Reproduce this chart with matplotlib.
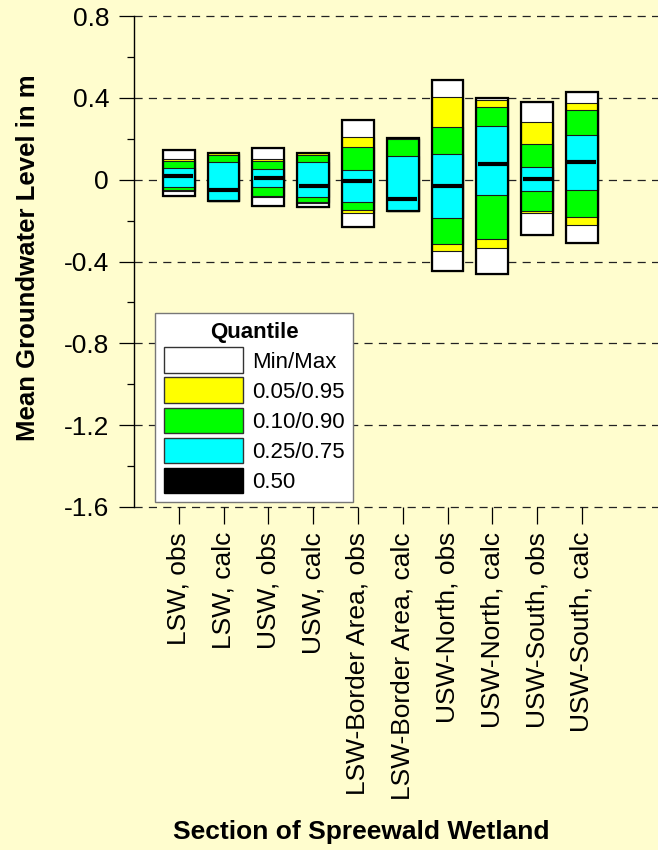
import matplotlib
matplotlib.use('Agg')
import matplotlib.pyplot as plt
from matplotlib.patches import Patch
from matplotlib.ticker import MultipleLocator

plt.rcParams['font.family'] = ['Liberation Sans', 'DejaVu Sans']

# quantiles of mean groundwater level (m) per section
labels = ['LSW, obs', 'LSW, calc', 'USW, obs', 'USW, calc',
          'LSW-Border Area, obs', 'LSW-Border Area, calc',
          'USW-North, obs', 'USW-North, calc', 'USW-South, obs', 'USW-South, calc']
q_min = [-0.080, -0.106, -0.128, -0.135, -0.233, -0.153, -0.445, -0.461, -0.270, -0.309]
q05 = [-0.057, -0.106, -0.085, -0.113, -0.163, -0.153, -0.350, -0.334, -0.163, -0.223]
q10 = [-0.050, -0.106, -0.078, -0.108, -0.150, -0.153, -0.316, -0.290, -0.151, -0.184]
q25 = [-0.034, -0.106, -0.034, -0.083, -0.108, -0.153, -0.189, -0.075, -0.055, -0.052]
q50 = [0.017, -0.049, 0.010, -0.029, -0.008, -0.093, -0.029, 0.077, 0.002, 0.085]
q75 = [0.056, 0.085, 0.051, 0.087, 0.046, 0.114, 0.127, 0.264, 0.064, 0.217]
q90 = [0.090, 0.120, 0.091, 0.119, 0.161, 0.197, 0.256, 0.357, 0.173, 0.342]
q95 = [0.100, 0.128, 0.100, 0.128, 0.210, 0.205, 0.404, 0.388, 0.282, 0.376]
q_max = [0.147, 0.130, 0.153, 0.130, 0.292, 0.205, 0.489, 0.399, 0.378, 0.430]

bg = '#FFFDCE'
fig = plt.figure(figsize=(6.58, 8.5), dpi=100, facecolor=bg)
ax = fig.add_axes([134/658, 1-507/850, 1-134/658, (507-16)/850])
ax.set_facecolor(bg)

x = list(range(1, len(labels)+1))
w = 0.71

# nested quantile boxes, outermost first
layers = [(q_min, q_max, 'white'), (q05, q95, '#FFFF00'),
          (q10, q90, '#00FF00'), (q25, q75, '#00FFFF')]
for lo, hi, col in layers:
    ax.bar(x, [h - l for l, h in zip(lo, hi)], bottom=lo, width=w,
           color=col, edgecolor='#1a1a1a', linewidth=0.8, zorder=3)
# outer frame
ax.bar(x, [h - l for l, h in zip(q_min, q_max)], bottom=q_min, width=w,
       fill=False, edgecolor='black', linewidth=1.6, zorder=4)
# median
ax.hlines(q50, [i - w/2 + 0.03 for i in x], [i + w/2 - 0.03 for i in x],
          color='black', linewidth=3.0, zorder=5)

ax.set_ylim(-1.6, 0.8)
ax.set_xlim(0, 11.7)
yt = [-1.6, -1.2, -0.8, -0.4, 0, 0.4, 0.8]
ax.set_yticks(yt)
ax.set_yticklabels(['-1.6', '-1.2', '-0.8', '-0.4', '0', '0.4', '0.8'])
ax.yaxis.set_minor_locator(MultipleLocator(0.2))
ax.tick_params(axis='y', which='major', length=11, width=0.9, pad=7, labelsize=19)
ax.tick_params(axis='y', which='minor', length=5, width=0.9)
ax.set_xticks(x)
ax.set_xticklabels(labels, rotation=90, fontsize=19)
ax.tick_params(axis='x', length=12, width=0.9, pad=6)

for s in ['top', 'right', 'bottom']:
    ax.spines[s].set_visible(False)
ax.spines['left'].set_linewidth(1.0)

for v in yt:
    ax.axhline(v, color='#222222', linewidth=0.9, dashes=(6.5, 5), zorder=1,
               clip_on=False)

handles = [Patch(facecolor='white', edgecolor='#333333', label='Min/Max'),
           Patch(facecolor='#FFFF00', edgecolor='#333333', label='0.05/0.95'),
           Patch(facecolor='#00FF00', edgecolor='#333333', label='0.10/0.90'),
           Patch(facecolor='#00FFFF', edgecolor='#333333', label='0.25/0.75'),
           Patch(facecolor='black', edgecolor='black', label='0.50')]
leg = fig.legend(handles=handles, title='Quantile', loc='upper left',
                 bbox_to_anchor=(155/658, 1-313/850), fontsize=16,
                 title_fontproperties={'weight': 'bold', 'size': 16},
                 fancybox=False, framealpha=1, edgecolor='#777777',
                 handlelength=3.55, handleheight=1.4, labelspacing=0.2,
                 handletextpad=0.4, borderpad=0.4, borderaxespad=0)
leg.get_frame().set_linewidth(1.0)

fig.text(361/658, 1-832/850, 'Section of Spreewald Wetland', ha='center',
         va='center', fontsize=19, fontweight='bold')
fig.text(28/658, 1-258/850, 'Mean Groundwater Level in m', ha='center',
         va='center', rotation=90, fontsize=18.5, fontweight='bold')

fig.savefig('out.png', dpi=100, facecolor=bg)
